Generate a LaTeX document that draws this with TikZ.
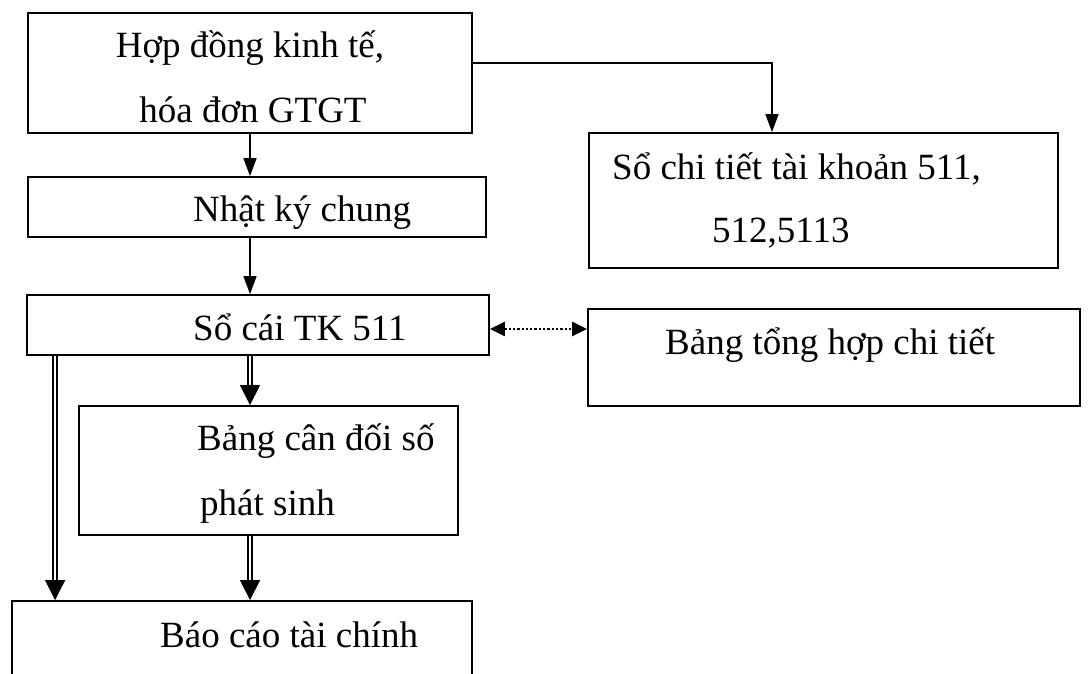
\documentclass[tikz,border=0pt]{standalone}
\usepackage{fontspec}
\setmainfont{Liberation Serif}
\usetikzlibrary{arrows.meta,calc}
\tikzset{
  box/.style={draw, line width=1.8pt, rectangle, inner sep=0pt},
  txt/.style={inner sep=0pt, anchor=base west, font=\fontsize{37}{44}\selectfont},
  arr/.style={line width=1.6pt, -{Triangle[length=18pt,width=13pt]}},
  dbl/.style={double, double distance=2.6pt, line width=1.6pt},
  bigtip/.style={line width=1.2pt, -{Triangle[length=20pt,width=20pt]}},
  dotarr/.style={line width=2.3pt, dotted, {Triangle[length=15pt,width=14pt]}-{Triangle[length=15pt,width=14pt]}}
}
\begin{document}
\begin{tikzpicture}[x=1pt,y=-1pt]
\clip (0,0) rectangle (1088,674);
\fill[white] (0,0) rectangle (1088,674);

% boxes
\node[box, minimum width=444pt, minimum height=120pt] (hd)  at (250,73) {};
\node[box, minimum width=458pt, minimum height=60pt]  (nk)  at (257,207) {};
\node[box, minimum width=462pt, minimum height=60pt]  (sc)  at (258,325) {};
\node[box, minimum width=469pt, minimum height=135pt] (sct) at (823.5,200.5) {};
\node[box, minimum width=492pt, minimum height=97pt]  (bth) at (834,357.5) {};
\node[box, minimum width=379pt, minimum height=129pt] (bcd) at (268.5,470.5) {};
\node[box, minimum width=460pt, minimum height=119pt] (bc)  at (242,660.5) {};

% labels
\node[txt, anchor=base] (t1) at (250,58)  {Hợp đồng kinh tế,};
\node[txt, anchor=base] (t2) at (253,123) {hóa đơn GTGT};
\node[txt] (t3) at (193,222) {Nhật ký chung};
\node[txt] (t4) at (193,340) {Sổ cái TK 511};
\node[txt] (t5) at (612,180) {Sổ chi tiết tài khoản 511,};
\node[txt] (t6) at (712,243) {512,5113};
\node[txt] (t7) at (665,354) {Bảng tổng hợp chi tiết};
\node[txt] (t8) at (197,450) {Bảng cân đối số};
\node[txt] (t9) at (200,515) {phát sinh};
\node[txt] (t10) at (160,647) {Báo cáo tài chính};

% single arrows
\draw[arr] (hd.south) -- (hd.south |- nk.north);
\draw[arr] (hd.south |- nk.south) -- (hd.south |- sc.north);
\draw[arr] ([yshift=10pt]hd.east) -| ([xshift=-51.5pt]sct.north);

% two-way dotted link
\draw[dotarr] ([yshift=-4pt]sc.east) -- ([yshift=-4pt]sc.east -| bth.west);

% double arrows
\coordinate (l1) at ([xshift=29pt]sc.south west);
\draw[dbl, shorten >=17pt] (hd.south |- sc.south) -- (hd.south |- bcd.north);
\draw[bigtip] ($(hd.south |- bcd.north)+(0,-20)$) -- (hd.south |- bcd.north);
\draw[dbl, shorten >=17pt] (hd.south |- bcd.south) -- (hd.south |- bc.north);
\draw[bigtip] ($(hd.south |- bc.north)+(0,-20)$) -- (hd.south |- bc.north);
\draw[dbl, shorten >=17pt] (l1) -- (l1 |- bc.north);
\draw[bigtip] ($(l1 |- bc.north)+(0,-20)$) -- (l1 |- bc.north);
\end{tikzpicture}
\end{document}
